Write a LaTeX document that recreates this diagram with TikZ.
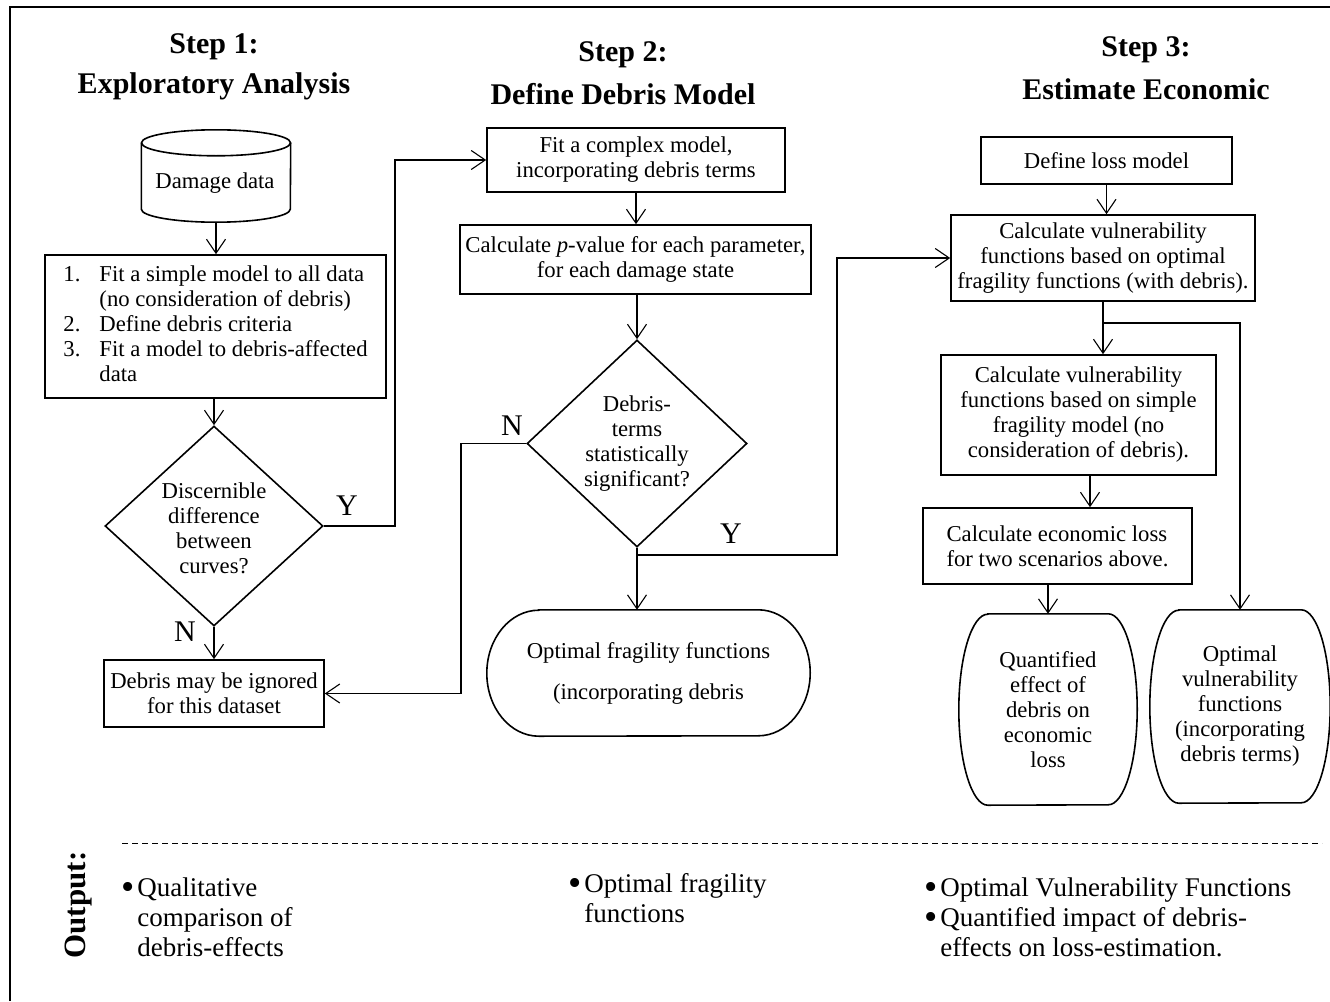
\documentclass[tikz,border=0pt]{standalone}
\usepackage{fontspec}
\setmainfont{Liberation Serif}
\usetikzlibrary{arrows.meta,shapes.geometric}
\newcommand\myBody{\fontsize{22.7}{25}\selectfont}
\newcommand\myOut{\fontsize{27}{30}\selectfont}
\newcommand\myTitle{\bfseries\fontsize{30}{40}\selectfont}
\newcommand\myTitleB{\bfseries\fontsize{30}{43}\selectfont}
\newcommand\myYN{\fontsize{30}{30}\selectfont}
\newcommand\myBul{\smash{\raisebox{-0.13em}{\scalebox{1.4}{\textbullet}}}}
% terminator outline around a named node: #1 name, #2 x radius, #3 y radius
\newcommand\myTerm[3]{\draw[boxline] ([xshift=#2]#1.north west) -- ([xshift=-#2]#1.north east)
  arc[start angle=90,end angle=-90,x radius=#2,y radius=#3] -- ([xshift=#2]#1.south west)
  arc[start angle=270,end angle=90,x radius=#2,y radius=#3] -- cycle;}
\tikzset{
  boxline/.style={line width=1.6pt},
  box/.style={draw, boxline, rectangle, inner sep=0pt, align=center, font=\myBody},
  term/.style={rectangle, inner sep=0pt, align=center, font=\myBody},
  dia/.style={draw, boxline, diamond, inner sep=0pt},
  txt/.style={inner sep=0pt, align=center, font=\myBody},
  ttl/.style={inner sep=0pt, align=center, font=\myTitle},
  yn/.style={inner sep=0pt, font=\myYN},
  outtxt/.style={inner sep=0pt, font=\myOut, anchor=base west},
  conn/.style={line width=1.1pt},
  arr/.style={conn, -{Straight Barb[length=14pt,width=19pt]}},
}
\begin{document}
\begin{tikzpicture}[x=1pt,y=-1pt]
\useasboundingbox (0,0) rectangle (1330,1001);
% frame
\draw[line width=1.5pt] (10,1001) -- (10,7) -- (1330,7);

% titles
\node[ttl] (t1) at (214,67) {Step 1:\\Exploratory Analysis};
\node[ttl, font=\myTitleB] (t2) at (623,73) {Step 2:\\Define Debris Model};
\node[ttl, font=\myTitleB] (t3) at (1146,68) {Step 3:\\Estimate Economic};

% Step 1
\node[term, minimum width=149pt, minimum height=92pt] (cyl) at (216,176) {};
\draw[boxline] ([yshift=-13pt]cyl.north) ellipse [x radius=74.5pt, y radius=13pt];
\draw[boxline] ([yshift=-13pt]cyl.north west) -- ([yshift=13pt]cyl.south west)
  arc[start angle=180,end angle=360,x radius=74.5pt,y radius=13pt] -- ([yshift=-13pt]cyl.north east);
\node[txt] (cylt) at (215,183) {Damage data};

\node[box, minimum width=341pt, minimum height=143pt] (b1) at (215.5,326.5)
  {\begin{tabular}{@{}p{36pt}@{}l@{}}
   1. & Fit a simple model to all data\\
      & (no consideration of debris)\\
   2. & Define debris criteria\\
   3. & Fit a model to debris-affected\\
      & data
   \end{tabular}};

\node[dia, minimum width=218pt, minimum height=200pt] (d1) at (214,526) {};
\node[txt] (d1t) at (214,528) {Discernible\\difference\\between\\curves?};

\node[box, minimum width=220pt, minimum height=67pt] (ign) at (214,693.5) {Debris may be ignored\\for this dataset};

\node[yn] (y1) at (347,506) {Y};
\node[yn] (n1) at (185,632) {N};

% Step 2
\node[box, minimum width=298pt, minimum height=64pt] (b2) at (636,160) {Fit a complex model,\\incorporating debris terms};
\node[box, minimum width=351pt, minimum height=69pt] (b3) at (635.5,259.5) {Calculate \textit{p}-value for each parameter,\\for each damage state};
\node[dia, minimum width=220pt, minimum height=207pt] (d2) at (637,443.5) {};
\node[txt] (d2t) at (637,444) {Debris-\\terms\\statistically\\significant?};
\node[term, minimum width=323pt, minimum height=126pt, font=\fontsize{22.7}{41}\selectfont] (opt) at (648.5,673) {Optimal fragility functions\\(incorporating debris};
\myTerm{opt}{52pt}{63pt}
\node[yn] (n2) at (512,426) {N};
\node[yn] (y2) at (731,534) {Y};

% Step 3
\node[box, minimum width=251pt, minimum height=47pt] (loss) at (1106.5,160.5) {Define loss model};
\node[box, minimum width=304pt, minimum height=86pt] (v1) at (1103,258) {Calculate vulnerability\\functions based on optimal\\fragility functions (with debris).};
\node[box, minimum width=275pt, minimum height=120pt] (v2) at (1078.5,415) {Calculate vulnerability\\functions based on simple\\fragility model (no\\consideration of debris).};
\node[box, minimum width=269pt, minimum height=76pt, align=left] (econ) at (1057.5,546) {Calculate economic loss\\for two scenarios above.};
\node[term, minimum width=178pt, minimum height=191pt] (q) at (1048,709.5) {Quantified\\effect of\\debris on\\economic\\loss};
\myTerm{q}{29pt}{95.5pt}
\node[term, minimum width=180pt, minimum height=193pt] (ov) at (1240,706.5) {Optimal\\vulnerability\\functions\\(incorporating\\debris terms)};
\myTerm{ov}{29pt}{96.5pt}

% connectors
\draw[arr] (cyl.south) -- (cyl.south |- b1.north);
\draw[arr] (d1.north |- b1.south) -- (d1.north);
\draw[arr] (d1.east) -- (395,526) |- (b2.west);
\draw[arr] (d1.south) -- (ign.north);
\draw[arr] (b2.south) -- (b2.south |- b3.north);
\draw[arr] (d2.north |- b3.south) -- (d2.north);
\draw[arr] (d2.west) -- (461,443.5) |- (ign.east);
\draw[arr] (d2.south) -- (d2.south |- opt.north);
\coordinate (ybr) at (637,555);
\draw[arr] (ybr) -- (837,555) |- (v1.west);
\draw[arr] (loss.south) -- (loss.south |- v1.north);
\draw[arr] (v1.south) -- (v1.south |- v2.north);
\coordinate (vbr) at (1103,323);
\draw[arr] (vbr) -| (ov.north);
\draw[arr] ([xshift=11.5pt]v2.south) -- ([xshift=11.5pt]v2.south |- econ.north);
\draw[arr] (q.north |- econ.south) -- (q.north);

% output section
\coordinate (dl) at (122,843);
\coordinate (dr) at (1322,843);
\draw[line width=0.8pt, dash pattern=on 6pt off 4pt] (dl) -- (dr);
\node[inner sep=0pt, rotate=90, font=\bfseries\fontsize{31}{31}\selectfont] (outl) at (79,905) {Output:};
\node[outtxt] (o1) at (121,896) {\begin{tabular}[t]{@{}l@{\hspace{3pt}}l@{}}\myBul & Qualitative\\ & comparison of\\ & debris-effects\end{tabular}};
\node[outtxt] (o2) at (568,892) {\begin{tabular}[t]{@{}l@{\hspace{3pt}}l@{}}\myBul & Optimal fragility\\ & functions\end{tabular}};
\node[outtxt] (o3) at (924,896) {\myBul\hspace{3pt}Optimal Vulnerability Functions};
\node[outtxt] (o4) at (924,926) {\begin{tabular}[t]{@{}l@{\hspace{3pt}}l@{}}\myBul & Quantified impact of debris-\\ & effects on loss-estimation.\end{tabular}};
\end{tikzpicture}
\end{document}
